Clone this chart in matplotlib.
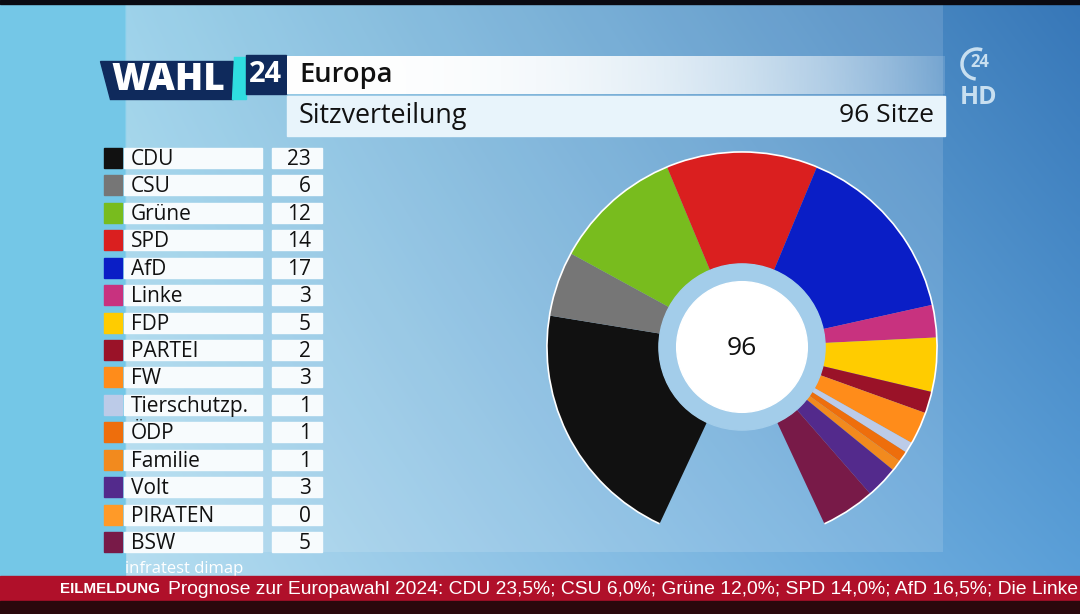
import matplotlib
matplotlib.use("Agg")
import matplotlib.pyplot as plt
import numpy as np
from matplotlib.patches import Rectangle, Polygon, Circle, Arc

plt.rcParams['font.family'] = ['Open Sans', 'DejaVu Sans']

# DATA
parties = ["CDU", "CSU", "Grüne", "SPD", "AfD", "Linke", "FDP", "PARTEI", "FW",
           "Tierschutzp.", "ÖDP", "Familie", "Volt", "PIRATEN", "BSW"]
seats = [23, 6, 12, 14, 17, 3, 5, 2, 3, 1, 1, 1, 3, 0, 5]
party_colors = ["#111111", "#767676", "#78bc1e", "#da1f1f", "#0a1ec6", "#c8327f",
                "#ffcc00", "#9a1228", "#ff8c1a", "#bccbe8", "#ee6e0c", "#f28a1e",
                "#532a8c", "#ff9a28", "#781a48"]
total_seats = sum(seats)
title = "Europa"
subtitle = "Sitzverteilung"
ticker = ("Prognose zur Europawahl 2024: CDU 23,5%; CSU 6,0%; Grüne 12,0%; "
          "SPD 14,0%; AfD 16,5%; Die Linke")

W, H = 1080, 614
fig = plt.figure(figsize=(W / 100, H / 100), dpi=100)
ax = fig.add_axes([0, 0, 1, 1])
ax.set_xlim(0, W)
ax.set_ylim(H, 0)
ax.axis('off')
renderer = fig.canvas.get_renderer()


def fit_width(txt, width):
    # shrink/grow a text so it spans the given pixel width
    w = txt.get_window_extent(renderer).width
    txt.set_fontsize(txt.get_fontsize() * width / w)


# background: flat strip on the left, diagonal blue gradient elsewhere
def hex2rgb(h):
    return np.array([int(h[i:i + 2], 16) for i in (1, 3, 5)]) / 255.0

tl, tr = hex2rgb("#8fcce7"), hex2rgb("#3777b8")
bl, br = hex2rgb("#b6def0"), hex2rgb("#5a9fd8")
gx = np.linspace(0, 1, 200)[None, :, None]
gy = np.linspace(0, 1, 120)[:, None, None]
grad = (tl * (1 - gx) + tr * gx) * (1 - gy) + (bl * (1 - gx) + br * gx) * gy
ax.imshow(grad, extent=(125, W, 576, 0), aspect='auto', interpolation='bilinear', zorder=0)
ax.add_patch(Rectangle((0, 0), 125, 576, color="#74c7e7", zorder=0))
ax.add_patch(Rectangle((125, 4), 818, 548, color="white", alpha=0.13, lw=0, zorder=1))
ax.add_patch(Rectangle((0, 0), W, 4, color="#0a0a12", zorder=5))

# header
ax.add_patch(Polygon([(100, 61), (233, 61), (233, 99), (110, 99)], closed=True,
                     color="#0f2a5c", zorder=3))
ax.add_patch(Polygon([(234, 57), (246, 57), (246, 99), (232, 99)], closed=True,
                     color="#2fdde0", zorder=3))
ax.add_patch(Rectangle((246, 55), 40, 39, color="#0f2a5c", zorder=3))
t = ax.text(168, 81, "WAHL", color="white", fontsize=24, fontweight='heavy',
            ha='center', va='center', zorder=4)
fit_width(t, 114)
ax.text(266, 75, "24", color="white", fontsize=21, fontweight='bold',
        ha='center', va='center', zorder=4)

fade = np.ones((1, 300, 4))
xs = np.linspace(0, 1, 300)
fade[0, :, 3] = np.clip(1.0 - 0.85 * xs ** 2.5, 0, 1)
ax.imshow(fade, extent=(287, 945, 94, 56), aspect='auto', zorder=3)
t = ax.text(299, 75, title, fontsize=17, fontweight='semibold', color="#111111",
            va='center', zorder=4)
fit_width(t, 93)
ax.add_patch(Rectangle((287, 96), 658, 40, color="#e8f4fb", zorder=3))
t = ax.text(299, 116, subtitle, fontsize=17, color="#111111", va='center', zorder=4)
fit_width(t, 169)
t = ax.text(934, 116, f"{total_seats} Sitze", fontsize=17, color="#111111",
            ha='right', va='center', zorder=4)
fit_width(t, 95)

# 24 HD logo
ax.add_patch(Arc((977, 64), 30, 30, theta1=95, theta2=290, color="#c8dff0",
                 lw=2.5, zorder=4))
ax.text(980, 62, "24", fontsize=12, fontweight='bold', color="#c8dff0",
        ha='center', va='center', zorder=4)
ax.text(979, 97, "HD", fontsize=18, fontweight='bold', color="#c8dff0",
        ha='center', va='center', zorder=4)

# legend table
row0, step = 158, 27.43
for i, (name, n, c) in enumerate(zip(parties, seats, party_colors)):
    y = row0 + i * step
    ax.add_patch(Rectangle((104, y - 10), 18, 20, color=c, zorder=3))
    ax.add_patch(Rectangle((124, y - 10), 138, 20, color="#f7fbfd", zorder=3))
    ax.add_patch(Rectangle((272, y - 10), 50, 20, color="#f7fbfd", zorder=3))
    ax.text(131, y + 1.5, name, fontsize=15, color="#111111", va='center', zorder=4)
    ax.text(311, y + 1.5, str(n), fontsize=15, color="#111111", ha='right',
            va='center', zorder=4)

ax.text(125, 569, "infratest dimap", fontsize=12, color="white", va='center', zorder=2)

# ticker
ax.add_patch(Rectangle((0, 576), W, 25, color="#b0102a", zorder=6))
ax.add_patch(Rectangle((0, 601), W, 13, color="#2a080c", zorder=6))
t = ax.text(60, 589, "EILMELDUNG", fontsize=13, fontweight='bold', color="white",
            family=['Liberation Sans'], va='center', zorder=7)
fit_width(t, 100)
t = ax.text(168, 589, ticker, fontsize=13, color="white",
            family=['Liberation Sans'], va='center', zorder=7)
fit_width(t, 908)

# donut
cx, cy, R = 742, 347, 197
pax = fig.add_axes([(cx - R) / W, (H - cy - R) / H, 2 * R / W, 2 * R / H])
gap_deg = 50
gap = total_seats * gap_deg / (360 - gap_deg)
wedges, _ = pax.pie(seats + [gap], colors=party_colors + ["none"], startangle=270 - gap_deg / 2,
                    counterclock=False, radius=1.0,
                    wedgeprops=dict(width=0.574, linewidth=0))
wedges[-1].set_visible(False)
pax.add_patch(Arc((0, 0), 2.0, 2.0, theta1=-65, theta2=245, color="white", lw=1.2))
pax.add_patch(Circle((0, 0), 0.426, color="#a3cdea"))
pax.add_patch(Circle((0, 0), 0.335, color="white"))
pax.text(0, -0.01, str(total_seats), fontsize=19, ha='center', va='center', color="#111111")
pax.set_xlim(-1.01, 1.01)
pax.set_ylim(-1.01, 1.01)
pax.axis('off')

fig.savefig("out.png", dpi=100)
